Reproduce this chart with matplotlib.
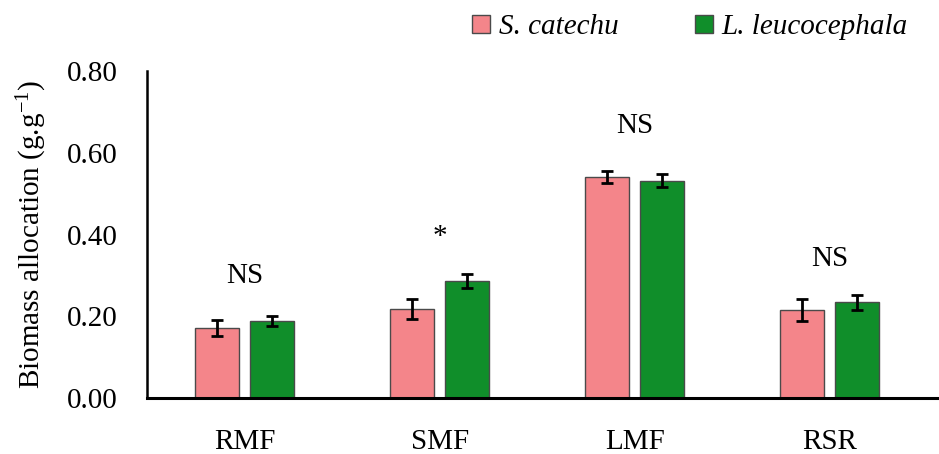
import matplotlib
matplotlib.use("Agg")
import matplotlib.pyplot as plt
import numpy as np

plt.rcParams["font.family"] = ["Liberation Serif", "DejaVu Serif"]
plt.rcParams["mathtext.fontset"] = "custom"
plt.rcParams["mathtext.rm"] = "Liberation Serif"
plt.rcParams["mathtext.it"] = "Liberation Serif:italic"

categories = ["RMF", "SMF", "LMF", "RSR"]
species = ["S. catechu", "L. leucocephala"]
catechu_mean = [0.172, 0.218, 0.541, 0.216]
catechu_err = [0.020, 0.025, 0.015, 0.027]
leuco_mean = [0.188, 0.286, 0.532, 0.234]
leuco_err = [0.013, 0.018, 0.016, 0.019]
significance = ["NS", "*", "NS", "NS"]
sig_y = [0.298, 0.393, 0.666, 0.341]
yticks = [0.0, 0.2, 0.4, 0.6, 0.8]

colors = ["#F4858A", "#108E2A"]
fs = 21

fig = plt.figure(figsize=(9.39, 4.54), dpi=100)
ax = fig.add_axes([0.1565, 0.1233, 0.8415, 0.7203])

x = np.arange(len(categories))
w = 0.225
off = 0.141
err_kw = dict(ecolor="black", elinewidth=2, capsize=4, capthick=2)
ax.bar(x - off, catechu_mean, w, yerr=catechu_err, color=colors[0],
       edgecolor="#4a4a4a", linewidth=1, label=species[0], error_kw=err_kw)
ax.bar(x + off, leuco_mean, w, yerr=leuco_err, color=colors[1],
       edgecolor="#4a4a4a", linewidth=1, label=species[1], error_kw=err_kw)

for xi, s, yv in zip(x, significance, sig_y):
    ax.text(xi, yv, s, ha="center", va="center", fontsize=fs)

ax.set_xlim(-0.5, 3.55)
ax.set_ylim(0, 0.8)
ax.set_yticks(yticks)
ax.set_yticklabels([f"{v:.2f}" for v in yticks])
ax.set_xticks(x)
ax.set_xticklabels(categories)
ax.tick_params(axis="y", length=0, pad=21, labelsize=fs)
ax.tick_params(axis="x", length=0, pad=22, labelsize=fs)

for side in ("top", "right"):
    ax.spines[side].set_visible(False)
ax.spines["left"].set_linewidth(1.8)
ax.spines["bottom"].set_linewidth(2.2)

ax.set_ylabel("Biomass allocation (g.g$^{\\mathregular{-1}}$)", fontsize=fs, labelpad=13)

leg = ax.legend(loc="center", ncol=2, frameon=False,
                prop={"family": "Liberation Serif", "style": "italic", "size": fs},
                handlelength=0.62, handleheight=0.62, handletextpad=0.3,
                columnspacing=2.6)
leg.set_bbox_to_anchor((0.5, 0.94, 0.47, 0.0), transform=fig.transFigure)

fig.savefig("out.png", dpi=100)
